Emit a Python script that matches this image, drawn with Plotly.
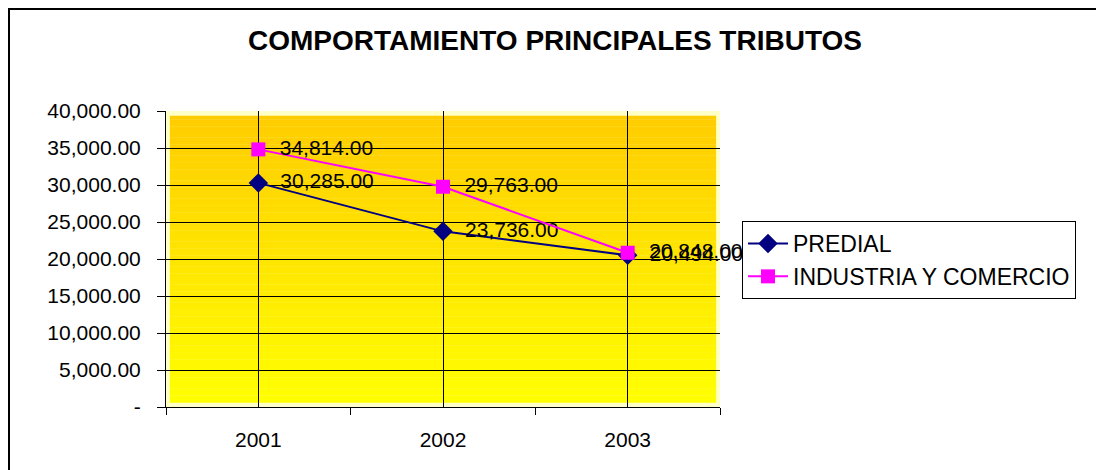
import plotly.graph_objects as go

years = ["2001", "2002", "2003"]
predial = [30285, 23736, 20494]
industria = [34814, 29763, 20848]
y_ticks = [0, 5000, 10000, 15000, 20000, 25000, 30000, 35000, 40000]
y_tick_text = ["-", "5,000.00", "10,000.00", "15,000.00", "20,000.00",
               "25,000.00", "30,000.00", "35,000.00", "40,000.00"]

OFF = 8  # page body margin
W, H = 1104 - OFF, 470 - OFF
L, R, T, B = 166 - OFF, 384, 111 - OFF, 71 - OFF
pw, ph = W - L - R, H - T - B

FONT = "Liberation Sans, Arial, sans-serif"
FS = 21

fig = go.Figure()

fig.add_trace(go.Scatter(
    x=years, y=predial, name="PREDIAL", mode="lines+markers+text",
    line=dict(color="#000080", width=2),
    marker=dict(symbol="diamond", size=15, color="#000080"),
    texttemplate="  %{y:,.2f}", textposition="middle right",
    textfont=dict(family=FONT, size=FS, color="black"),
    cliponaxis=False, legendgroup="a"))
fig.add_trace(go.Scatter(
    x=years, y=industria, name="INDUSTRIA Y COMERCIO", mode="lines+markers+text",
    line=dict(color="#FF00FF", width=2),
    marker=dict(symbol="square", size=14, color="#FF00FF"),
    texttemplate="  %{y:,.2f}", textposition="middle right",
    textfont=dict(family=FONT, size=FS, color="black"),
    cliponaxis=False, legendgroup="b"))

# invisible trace to anchor the boundary-tick axis
fig.add_trace(go.Scatter(x=[0, 2], y=[0, 0], xaxis="x2", mode="markers",
                         marker=dict(opacity=0), showlegend=False, hoverinfo="skip"))

# gradient background of plot area
shapes = []
n = 80
top = (255, 204, 0)
bot = (255, 255, 0)
y0d, y1d = 0.014, 0.983
for i in range(n):
    f = (i + 0.5) / n
    c = tuple(round(bot[k] + (top[k] - bot[k]) * f) for k in range(3))
    shapes.append(dict(type="rect", xref="x domain", yref="y domain",
                       x0=0.007, x1=0.993,
                       y0=y0d + (y1d - y0d) * i / n, y1=y0d + (y1d - y0d) * (i + 1) / n + 0.001,
                       fillcolor="rgb(%d,%d,%d)" % c, line=dict(width=0), layer="below"))
# outer chart border (left and top), drawn at the figure's edge
bx = -(L - 1) / pw
by = 1 + (T - 1) / ph
shapes.append(dict(type="path", xref="paper", yref="paper",
                   path=f"M {bx} -1 L {bx} {by} L 2 {by}",
                   line=dict(color="black", width=2)))

fig.update_layout(
    width=W, height=H,
    margin=dict(l=L, r=R, t=T, b=B, autoexpand=False),
    paper_bgcolor="white",
    plot_bgcolor="#FFFFC8",
    font=dict(family=FONT, size=FS, color="black"),
    title=dict(text="<b>COMPORTAMIENTO PRINCIPALES TRIBUTOS</b>",
               x=(555 - 166) / pw, xref="paper", xanchor="center",
               y=1 - (40 - OFF) / H, yref="container", yanchor="middle",
               font=dict(family=FONT, size=28, color="black")),
    shapes=shapes,
    showlegend=True,
    legend=dict(x=(742 - 166) / pw, y=1 - (221 - 111) / ph, xanchor="left", yanchor="top",
                xref="paper", yref="paper",
                bgcolor="white", bordercolor="black", borderwidth=1,
                font=dict(family=FONT, size=23, color="black"),
                tracegroupgap=0, itemwidth=40),
    xaxis=dict(type="category", range=[-0.5, 2.5], showgrid=True, gridcolor="black",
               gridwidth=1, showline=True, linecolor="black", linewidth=1,
               ticks="", ticklabelstandoff=14, zeroline=False, automargin=False,
               tickfont=dict(family=FONT, size=FS)),
    xaxis2=dict(overlaying="x", anchor="y", range=[-0.5, 2.5], tickvals=[-0.5, 0.5, 1.5, 2.5],
                showticklabels=False, showgrid=False, zeroline=False, ticks="outside",
                ticklen=7, tickcolor="black", side="bottom", showline=False, automargin=False),
    yaxis=dict(range=[0, 40000], tickvals=y_ticks, ticktext=y_tick_text,
               showgrid=True, gridcolor="black", gridwidth=1, zeroline=False,
               showline=True, linecolor="black", linewidth=1,
               ticks="outside", ticklen=8, tickcolor="black", automargin=False,
               ticklabelstandoff=12, tickfont=dict(family=FONT, size=FS)),
)

fig.write_html("out.html")
